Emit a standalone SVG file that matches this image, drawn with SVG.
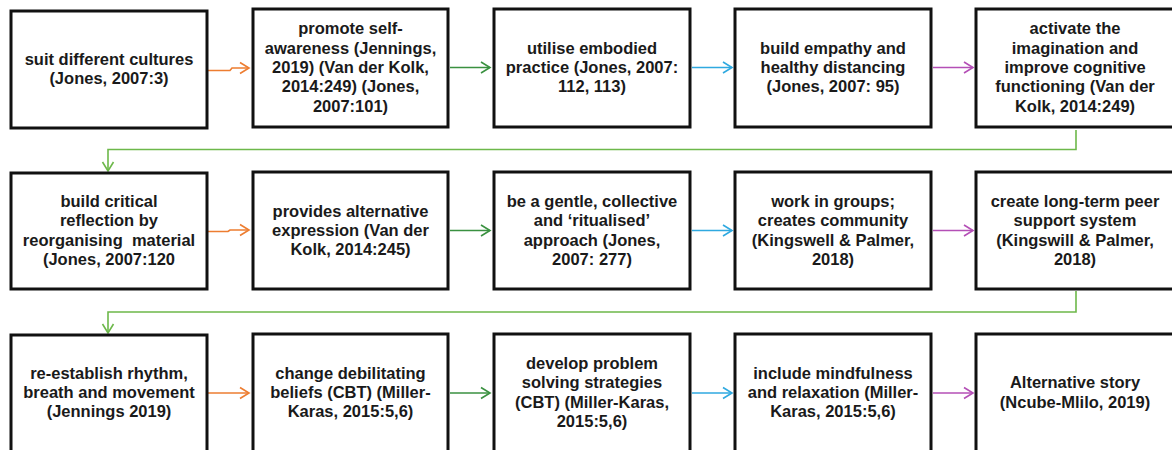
<svg xmlns="http://www.w3.org/2000/svg" width="1172" height="450" viewBox="0 0 1172 450">
  <style>
    .box { fill: #ffffff; stroke: #111111; stroke-width: 3; }
    .lbl { font-family: "Liberation Sans", Arial, sans-serif; font-weight: bold; font-size: 16.5px; fill: #1a1a1a; text-anchor: middle; white-space: pre; }
    .c { fill: none; stroke-width: 1.6; }
    .or { stroke: #ED7D31; }
    .gr { stroke: #3A9140; }
    .bl { stroke: #2FA9E0; }
    .mg { stroke: #B44FB6; }
    .lg { stroke: #6DB84A; }
  </style>
  <defs>
    <marker id="aOr" markerUnits="userSpaceOnUse" markerWidth="14" markerHeight="14" refX="11" refY="7" orient="auto">
      <path d="M2,1.5 L11,7 L2,12.5" fill="none" stroke="#ED7D31" stroke-width="1.6"/>
    </marker>
    <marker id="aGr" markerUnits="userSpaceOnUse" markerWidth="14" markerHeight="14" refX="11" refY="7" orient="auto">
      <path d="M2,1.5 L11,7 L2,12.5" fill="none" stroke="#3A9140" stroke-width="1.6"/>
    </marker>
    <marker id="aBl" markerUnits="userSpaceOnUse" markerWidth="14" markerHeight="14" refX="11" refY="7" orient="auto">
      <path d="M2,1.5 L11,7 L2,12.5" fill="none" stroke="#2FA9E0" stroke-width="1.6"/>
    </marker>
    <marker id="aMg" markerUnits="userSpaceOnUse" markerWidth="14" markerHeight="14" refX="11" refY="7" orient="auto">
      <path d="M2,1.5 L11,7 L2,12.5" fill="none" stroke="#B44FB6" stroke-width="1.6"/>
    </marker>
    <marker id="aLg" markerUnits="userSpaceOnUse" markerWidth="14" markerHeight="14" refX="11" refY="7" orient="auto">
      <path d="M2,1.5 L11,7 L2,12.5" fill="none" stroke="#6DB84A" stroke-width="1.6"/>
    </marker>
  </defs>

  <rect width="1172" height="450" fill="#ffffff"/>

  <!-- connectors -->
  <g id="connectors">
    <!-- row 1 -->
    <path class="c or" d="M208,70.5 H230 L232,68 H249" marker-end="url(#aOr)"/>
    <path class="c gr" d="M450,67.5 H490" marker-end="url(#aGr)"/>
    <path class="c bl" d="M692,67.5 H732" marker-end="url(#aBl)"/>
    <path class="c mg" d="M933,67.5 H973" marker-end="url(#aMg)"/>
    <!-- row 1 to row 2 -->
    <path class="c lg" d="M1076,130 V149.5 H108 V171" marker-end="url(#aLg)"/>
    <!-- row 2 -->
    <path class="c or" d="M208,231.5 H228 L230,230 H249" marker-end="url(#aOr)"/>
    <path class="c gr" d="M450,230.5 H490" marker-end="url(#aGr)"/>
    <path class="c bl" d="M692,230.5 H732" marker-end="url(#aBl)"/>
    <path class="c mg" d="M933,230.5 H973" marker-end="url(#aMg)"/>
    <!-- row 2 to row 3 -->
    <path class="c lg" d="M1076,291 V312 H108 V333" marker-end="url(#aLg)"/>
    <!-- row 3 -->
    <path class="c or" d="M208,393 H249" marker-end="url(#aOr)"/>
    <path class="c gr" d="M450,393 H490" marker-end="url(#aGr)"/>
    <path class="c bl" d="M692,393 H732" marker-end="url(#aBl)"/>
    <path class="c mg" d="M933,393 H973" marker-end="url(#aMg)"/>
  </g>

  <!-- row 1 -->
  <g id="n1">
    <rect class="box" x="11" y="11" width="196" height="117"/>
    <text class="lbl"><tspan x="109" y="65">suit different cultures</tspan><tspan x="109" y="84.4">(Jones, 2007:3)</tspan></text>
  </g>
  <g id="n2">
    <rect class="box" x="253" y="9" width="195" height="118"/>
    <text class="lbl"><tspan x="350.5" y="34.2">promote self-</tspan><tspan x="350.5" y="53.6">awareness (Jennings,</tspan><tspan x="350.5" y="73">2019) (Van der Kolk,</tspan><tspan x="350.5" y="92.4">2014:249) (Jones,</tspan><tspan x="350.5" y="111.8">2007:101)</tspan></text>
  </g>
  <g id="n3">
    <rect class="box" x="494" y="9" width="196" height="118"/>
    <text class="lbl"><tspan x="592" y="53.6">utilise embodied</tspan><tspan x="592" y="73">practice (Jones, 2007:</tspan><tspan x="592" y="92.4">112, 113)</tspan></text>
  </g>
  <g id="n4">
    <rect class="box" x="735" y="9" width="196" height="118"/>
    <text class="lbl"><tspan x="833" y="53.6">build empathy and</tspan><tspan x="833" y="73">healthy distancing</tspan><tspan x="833" y="92.4">(Jones, 2007: 95)</tspan></text>
  </g>
  <g id="n5">
    <rect class="box" x="976" y="9" width="198" height="118"/>
    <text class="lbl"><tspan x="1075" y="34.2">activate the</tspan><tspan x="1075" y="53.6">imagination and</tspan><tspan x="1075" y="73">improve cognitive</tspan><tspan x="1075" y="92.4">functioning (Van der</tspan><tspan x="1075" y="111.8">Kolk, 2014:249)</tspan></text>
  </g>

  <!-- row 2 -->
  <g id="n6">
    <rect class="box" x="11" y="173" width="196" height="116"/>
    <text class="lbl"><tspan x="109" y="206.9">build critical</tspan><tspan x="109" y="226.3">reflection by</tspan><tspan x="109" y="245.7">reorganising  material</tspan><tspan x="109" y="265.1">(Jones, 2007:120</tspan></text>
  </g>
  <g id="n7">
    <rect class="box" x="253" y="172" width="195" height="117"/>
    <text class="lbl"><tspan x="350.5" y="216.6">provides alternative</tspan><tspan x="350.5" y="236">expression (Van der</tspan><tspan x="350.5" y="255.4">Kolk, 2014:245)</tspan></text>
  </g>
  <g id="n8">
    <rect class="box" x="494" y="172" width="196" height="117"/>
    <text class="lbl"><tspan x="592" y="206.9">be a gentle, collective</tspan><tspan x="592" y="226.3">and ‘ritualised’</tspan><tspan x="592" y="245.7">approach (Jones,</tspan><tspan x="592" y="265.1">2007: 277)</tspan></text>
  </g>
  <g id="n9">
    <rect class="box" x="735" y="172" width="196" height="117"/>
    <text class="lbl"><tspan x="833" y="206.9">work in groups;</tspan><tspan x="833" y="226.3">creates community</tspan><tspan x="833" y="245.7">(Kingswell &amp; Palmer,</tspan><tspan x="833" y="265.1">2018)</tspan></text>
  </g>
  <g id="n10">
    <rect class="box" x="976" y="172" width="198" height="117"/>
    <text class="lbl"><tspan x="1075" y="206.9">create long-term peer</tspan><tspan x="1075" y="226.3">support system</tspan><tspan x="1075" y="245.7">(Kingswill &amp; Palmer,</tspan><tspan x="1075" y="265.1">2018)</tspan></text>
  </g>

  <!-- row 3 -->
  <g id="n11">
    <rect class="box" x="11" y="335" width="196" height="117"/>
    <text class="lbl"><tspan x="109" y="378.6">re-establish rhythm,</tspan><tspan x="109" y="398">breath and movement</tspan><tspan x="109" y="417.4">(Jennings 2019)</tspan></text>
  </g>
  <g id="n12">
    <rect class="box" x="253" y="334" width="195" height="118"/>
    <text class="lbl"><tspan x="350.5" y="378.6">change debilitating</tspan><tspan x="350.5" y="398">beliefs (CBT) (Miller-</tspan><tspan x="350.5" y="417.4">Karas, 2015:5,6)</tspan></text>
  </g>
  <g id="n13">
    <rect class="box" x="494" y="334" width="196" height="118"/>
    <text class="lbl"><tspan x="592" y="368.9">develop problem</tspan><tspan x="592" y="388.3">solving strategies</tspan><tspan x="592" y="407.7">(CBT) (Miller-Karas,</tspan><tspan x="592" y="427.1">2015:5,6)</tspan></text>
  </g>
  <g id="n14">
    <rect class="box" x="735" y="334" width="196" height="118"/>
    <text class="lbl"><tspan x="833" y="378.6">include mindfulness</tspan><tspan x="833" y="398">and relaxation (Miller-</tspan><tspan x="833" y="417.4">Karas, 2015:5,6)</tspan></text>
  </g>
  <g id="n15">
    <rect class="box" x="976" y="334" width="198" height="118"/>
    <text class="lbl"><tspan x="1075" y="388.3">Alternative story</tspan><tspan x="1075" y="407.7">(Ncube-Mlilo, 2019)</tspan></text>
  </g>
</svg>
